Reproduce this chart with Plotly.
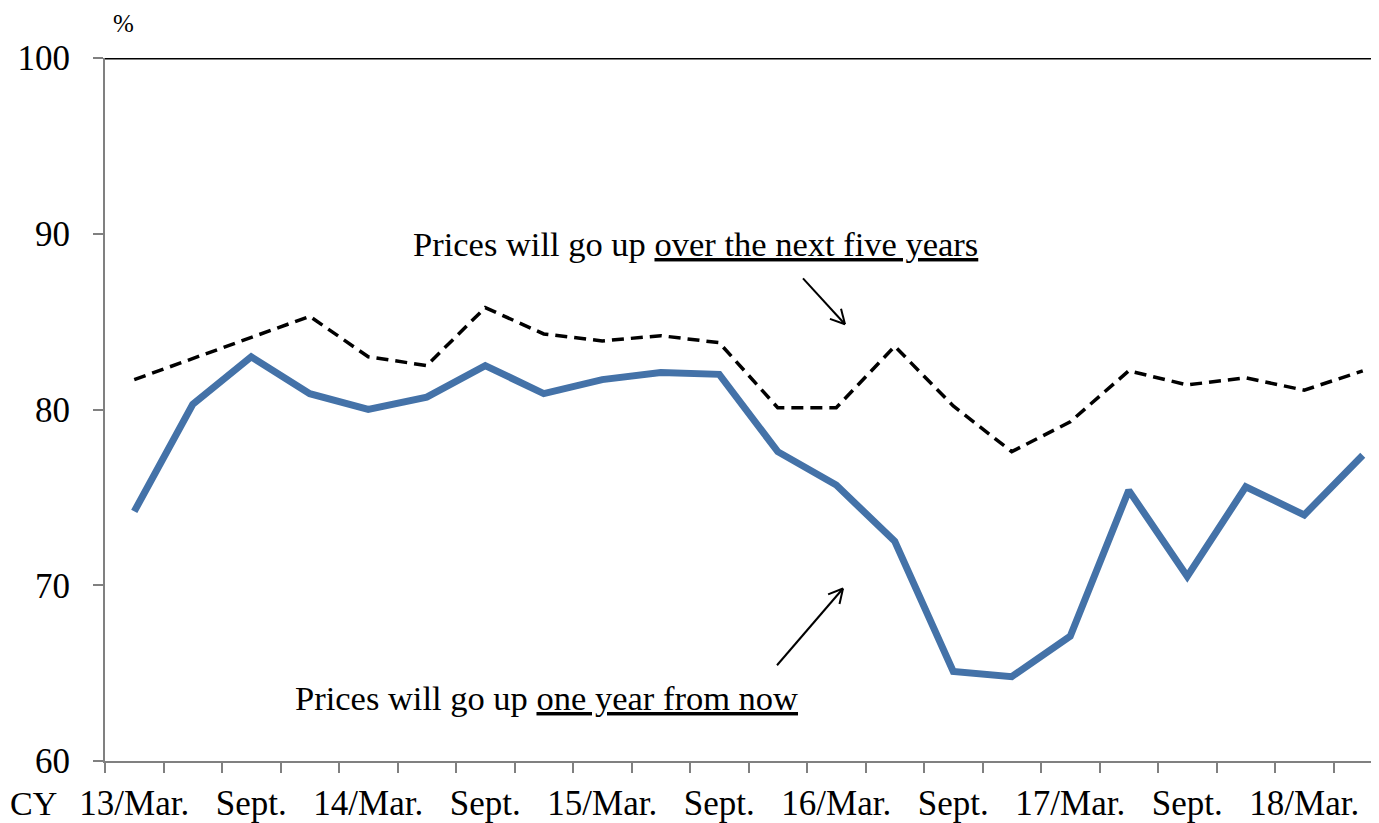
import math
import plotly.graph_objects as go

quarters = ["13/Mar.", "Jun.", "Sept.", "Dec.",
            "14/Mar.", "Jun.", "Sept.", "Dec.",
            "15/Mar.", "Jun.", "Sept.", "Dec.",
            "16/Mar.", "Jun.", "Sept.", "Dec.",
            "17/Mar.", "Jun.", "Sept.", "Dec.",
            "18/Mar.", "Jun."]
tick_labels = ["13/Mar.", "Sept.", "14/Mar.", "Sept.", "15/Mar.", "Sept.",
               "16/Mar.", "Sept.", "17/Mar.", "Sept.", "18/Mar."]
one_year = [74.2, 80.3, 83.0, 80.9, 80.0, 80.7, 82.5, 80.9, 81.7, 82.1, 82.0,
            77.6, 75.7, 72.5, 65.1, 64.8, 67.1, 75.4, 70.5, 75.6, 74.0, 77.4]
five_years = [81.7, 82.9, 84.1, 85.3, 83.0, 82.5, 85.8, 84.3, 83.9, 84.2, 83.8,
              80.1, 80.1, 83.6, 80.2, 77.6, 79.3, 82.2, 81.4, 81.8, 81.1, 82.2]
y_ticks = [60, 70, 80, 90, 100]

# page body has an 8px margin; target positions are given in window pixels
OFF = 8
W, H = 1379 - OFF, 823 - OFF
ML, MT, MB, MR = 105 - OFF, 58 - OFF, 60, 0
plot_w = W - ML - MR
plot_h = H - MT - MB
px_per_cat = 58.5
x_lo = -0.5
x_hi = x_lo + plot_w / px_per_cat
y_lo, y_hi = 60, 100
px_per_y = plot_h / (y_hi - y_lo)

FONT = "Liberation Serif"
x = list(range(len(quarters)))

fig = go.Figure()
fig.add_trace(go.Scatter(x=x, y=five_years, mode="lines",
                         line=dict(color="black", width=3.5, dash="12px,7px"),
                         name="five years", hoverinfo="skip"))
fig.add_trace(go.Scatter(x=x, y=one_year, mode="lines",
                         line=dict(color="#4472A8", width=7),
                         name="one year", hoverinfo="skip"))

# top border line
fig.add_shape(type="line", xref="paper", yref="y", x0=0, x1=1, y0=100, y1=100,
              line=dict(color="black", width=3))


def to_data(px, py):
    # px, py in window pixels
    return (px - 105) / px_per_cat + x_lo, y_hi - (py - 58) / px_per_y


def arrow(tail_px, head_px):
    tx, ty = to_data(*tail_px)
    hx, hy = to_data(*head_px)
    fig.add_shape(type="line", x0=tx, y0=ty, x1=hx, y1=hy,
                  line=dict(color="black", width=2))
    ang = math.atan2(head_px[1] - tail_px[1], head_px[0] - tail_px[0])
    L = 16
    for d in (math.radians(28), -math.radians(28)):
        bx = head_px[0] - L * math.cos(ang + d)
        by = head_px[1] - L * math.sin(ang + d)
        ex, ey = to_data(bx, by)
        fig.add_shape(type="line", x0=hx, y0=hy, x1=ex, y1=ey,
                      line=dict(color="black", width=2))


arrow((803, 279), (845, 325))
arrow((777, 667), (843, 590))

ax1, ay1 = to_data(695, 245)
fig.add_annotation(x=ax1, y=ay1, text="Prices will go up <u>over the next five years</u>",
                   showarrow=False, font=dict(family=FONT, size=34.5, color="black"))
ax2, ay2 = to_data(546, 700)
fig.add_annotation(x=ax2, y=ay2, text="Prices will go up <u>one year from now</u>",
                   showarrow=False, font=dict(family=FONT, size=34.5, color="black"))

fig.add_annotation(xref="paper", yref="paper", x=(123 - 105) / plot_w,
                   y=(763 - 23) / plot_h, text="%", showarrow=False,
                   xanchor="center", yanchor="middle",
                   font=dict(family=FONT, size=25, color="black"))
fig.add_annotation(xref="paper", yref="paper", x=(9 - 105) / plot_w,
                   y=(763 - 806) / plot_h, text="CY", showarrow=False,
                   xanchor="left", yanchor="middle", borderpad=0,
                   font=dict(family=FONT, size=34, color="black"))

fig.update_layout(
    width=W, height=H,
    margin=dict(l=ML, r=MR, t=MT, b=MB),
    paper_bgcolor="white", plot_bgcolor="white",
    showlegend=False,
    xaxis=dict(range=[x_lo, x_hi], tickmode="array",
               tickvals=x[::2], ticktext=tick_labels,
               ticks="", showgrid=False, zeroline=False,
               showline=True, linecolor="#808080", linewidth=2,
               tickfont=dict(family=FONT, size=35, color="black"),
               ticklabelstandoff=10,
               minor=dict(tickmode="array",
                          tickvals=[i - 0.5 for i in range(len(quarters) + 1)],
                          ticks="outside", ticklen=10, tickcolor="#808080",
                          tickwidth=1.5, showgrid=False)),
    yaxis=dict(range=[y_lo, y_hi], tickmode="array", tickvals=y_ticks,
               ticks="outside", ticklen=10, tickcolor="#808080", tickwidth=1.5,
               showgrid=False, zeroline=False,
               showline=True, linecolor="#808080", linewidth=2,
               tickfont=dict(family=FONT, size=35, color="black"),
               ticklabelstandoff=16),
)

fig.write_html("out.html")
